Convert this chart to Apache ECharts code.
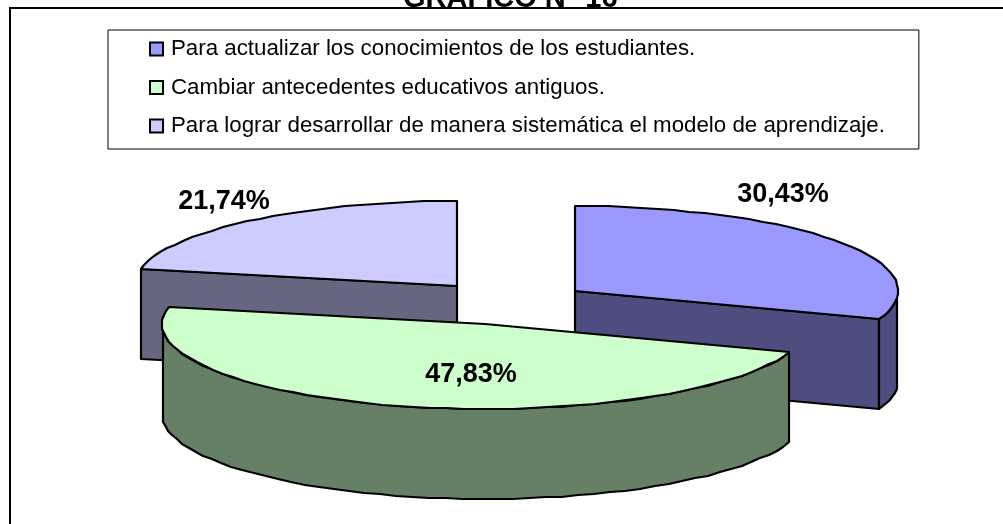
<!DOCTYPE html>
<html><head><meta charset="utf-8">
<style>html,body{margin:0;padding:0;background:#fff}#c{width:1003px;height:524px}</style>
<script src="https://cdn.jsdelivr.net/npm/echarts@6/dist/echarts.min.js"></script>
</head><body><div id="c"></div>
<script>
const categories = [
  'Para actualizar los conocimientos de los estudiantes.',
  'Cambiar antecedentes educativos antiguos.',
  'Para lograr desarrollar de manera sistemática el modelo de aprendizaje.'
];
const percentages = [30.43, 47.83, 21.74];
const topColors = ['#9999FF', '#CCFFCC', '#CCCCFF'];
const sideColors = ['#4D4D80', '#668066', '#666680'];
const titleText = 'GRAFICO N° 16';
// exploded 3D pie layout: apex of each slice, ellipse radii, thickness, label anchors
const apexes = [[575, 291], [485, 324], [457, 286]];
const labelAnchors = [[783, 195], [471, 375], [224, 202]];
const RX = 323, RY = 85, DEPTH = 90, SILHOUETTE = 5.5;
const drawOrder = [2, 0, 1];

const total = percentages.reduce((a, b) => a + b, 0);
const startAngles = percentages.map((_, i) => percentages.slice(0, i).reduce((a, b) => a + b, 0) / total * 360);

function pt(c, deg, dy) {
  const r = deg * Math.PI / 180;
  return [Math.round(c[0] + RX * Math.sin(r)), Math.round(c[1] - RY * Math.cos(r) + (dy || 0))];
}
function arc(c, a, b, dy) {
  const out = [], n = Math.max(2, Math.ceil(Math.abs(b - a) / 3));
  for (let k = 0; k <= n; k++) out.push(pt(c, a + (b - a) * k / n, dy));
  return out;
}
const line = { stroke: '#000', lineWidth: 2.2, lineJoin: 'round' };

function makeRender(i) {
  return function () {
    const c = apexes[i], a = startAngles[i], b = a + percentages[i] / total * 360;
    const children = [];
    const push = (pts, fill) => children.push({ type: 'polygon', shape: { points: pts }, style: Object.assign({ fill }, line) });
    const under = [c[0], c[1] + DEPTH];
    // cut faces that look toward the viewer
    if (b < 180) push([c, pt(c, b), pt(c, b, DEPTH), under], sideColors[i]);
    if (a > 180) push([c, pt(c, a), pt(c, a, DEPTH), under], sideColors[i]);
    // outer rim
    const s = Math.max(a, 90 + SILHOUETTE), e = Math.min(b, 270 - SILHOUETTE);
    if (e > s) push(arc(c, s, e).concat(arc(c, e, s, DEPTH)), sideColors[i]);
    // top face
    push([c].concat(arc(c, a, b)), topColors[i]);
    // percentage label
    children.push({
      type: 'text', z2: 10,
      style: {
        x: labelAnchors[i][0], y: labelAnchors[i][1], align: 'center', verticalAlign: 'middle',
        text: percentages[i].toFixed(2).replace('.', ',') + '%',
        font: 'bold 27px "Liberation Sans"', fill: '#000'
      }
    });
    return { type: 'group', children };
  };
}

const chart = echarts.init(document.getElementById('c'), null, { renderer: 'canvas' });
chart.setOption({
  animation: false,
  backgroundColor: '#fff',
  title: {
    text: titleText, left: 403, top: -16, padding: 0,
    textStyle: { fontFamily: 'Liberation Sans', fontWeight: 'bold', fontSize: 29, color: '#000' }
  },
  graphic: [{
    type: 'rect', z: -1, shape: { x: 10, y: 8, width: 1100, height: 600 },
    style: { fill: '#fff', stroke: '#000', lineWidth: 2 }
  }],
  legend: {
    data: categories, orient: 'vertical', left: 108, top: 30,
    padding: [8, 34, 12, 41], itemGap: 16.5, itemWidth: 13, itemHeight: 13, icon: 'rect',
    backgroundColor: '#fff', borderColor: '#000', borderWidth: 1,
    selectedMode: false,
    textStyle: { fontFamily: 'Liberation Sans', fontSize: 22.3, color: '#000', padding: [0, 0, 0, 3] },
    itemStyle: { borderColor: '#000', borderWidth: 2 }
  },
  series: drawOrder.map(i => ({
    type: 'custom', name: categories[i], coordinateSystem: 'none',
    data: [percentages[i]], renderItem: makeRender(i), z: 2,
    itemStyle: { color: topColors[i] }, silent: true
  }))
});
</script></body></html>
